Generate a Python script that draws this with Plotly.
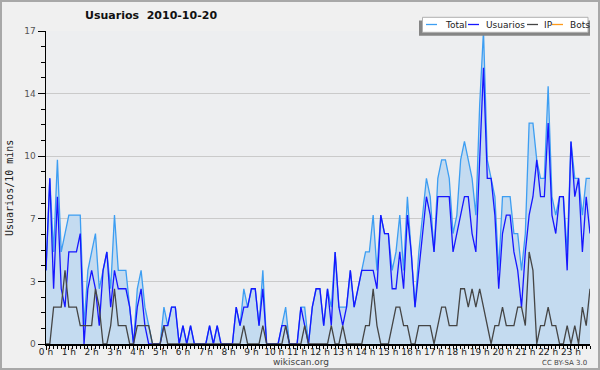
import plotly.graph_objects as go

# ---------------- data (10-minute slots, 2010-10-20) ----------------
slots = list(range(144))

hour_ticks = [0, 6, 12, 18, 24, 30, 36, 42, 48, 54, 60, 66,
              72, 78, 84, 90, 96, 102, 108, 114, 120, 126, 132, 138]
hour_labels = ["0 h", "1 h", "2 h", "3 h", "4 h", "5 h", "6 h", "7 h",
               "8 h", "9 h", "10 h", "11 h", "12 h", "13 h", "14 h", "15 h",
               "16 h", "17 h", "18 h", "19 h", "20 h", "21 h", "22 h", "23 h"]

y_tick_vals = [0, 3.4, 6.8, 10.2, 13.6, 17]
y_tick_text = ["0", "3", "7", "10", "14", "17"]

total = [4, 9, 5, 10, 5, 6, 7, 7, 7, 7,
         1, 4, 5, 6, 3, 4, 5, 3, 7, 4,
         4, 4, 2, 0, 3, 4, 2, 1, 0, 0,
         0, 2, 1, 2, 2, 0, 1, 0, 1, 0,
         0, 0, 0, 1, 0, 1, 0, 0, 0, 0,
         2, 1, 3, 2, 3, 3, 1, 4, 0, 0,
         0, 0, 1, 2, 0, 0, 0, 2, 2, 0,
         2, 3, 3, 1, 3, 2, 5, 2, 2, 2,
         4, 2, 3, 4, 5, 5, 7, 4, 7, 6,
         6, 4, 5, 7, 4, 8, 5, 2, 5, 7,
         9, 8, 5, 9, 10, 10, 9, 6, 7, 10,
         11, 10, 9, 7, 13, 17, 10, 9, 8, 4,
         8, 8, 8, 6, 6, 4, 6, 12, 12, 10,
         9, 9, 14, 8, 7, 8, 8, 5, 11, 9,
         9, 7, 9, 9]

usuarios = [4, 9, 3, 8, 3, 2, 5, 5, 5, 6,
            0, 3, 4, 3, 1, 4, 5, 2, 4, 3,
            3, 3, 2, 0, 2, 3, 1, 0, 0, 0,
            0, 1, 1, 2, 2, 0, 1, 0, 1, 0,
            0, 0, 0, 1, 0, 1, 0, 0, 0, 0,
            2, 1, 2, 2, 3, 3, 1, 3, 0, 0,
            0, 0, 1, 1, 0, 0, 0, 2, 1, 0,
            2, 3, 3, 1, 3, 1, 5, 2, 1, 2,
            4, 2, 3, 4, 4, 4, 4, 3, 7, 6,
            6, 3, 3, 5, 3, 7, 5, 2, 4, 6,
            8, 7, 5, 8, 8, 8, 8, 5, 6, 7,
            8, 8, 6, 5, 10, 15, 9, 9, 7, 3,
            6, 7, 7, 5, 4, 2, 5, 7, 8, 10,
            8, 8, 12, 7, 6, 8, 8, 4, 11, 8,
            9, 5, 8, 6]

ip = [0, 0, 2, 2, 2, 4, 2, 2, 2, 1,
      1, 1, 1, 3, 2, 0, 0, 1, 3, 1,
      1, 1, 0, 0, 1, 1, 1, 1, 0, 0,
      0, 1, 0, 0, 0, 0, 0, 0, 0, 0,
      0, 0, 0, 0, 0, 0, 0, 0, 0, 0,
      0, 0, 1, 0, 0, 0, 0, 1, 0, 0,
      0, 0, 0, 1, 0, 0, 0, 0, 1, 0,
      0, 0, 0, 0, 0, 1, 0, 0, 1, 0,
      0, 0, 0, 0, 1, 1, 3, 1, 0, 0,
      0, 1, 2, 2, 1, 1, 0, 0, 1, 1,
      1, 1, 0, 1, 2, 2, 1, 1, 1, 3,
      3, 2, 3, 2, 3, 2, 1, 0, 1, 1,
      2, 1, 1, 1, 2, 2, 1, 5, 4, 0,
      1, 1, 2, 1, 1, 0, 0, 1, 0, 1,
      0, 2, 1, 3]

bots = [0, 0, 0, 0, 0, 0, 0, 0, 0, 0, 0, 0, 0, 0, 0, 0, 0, 0, 0, 0,
        0, 0, 0, 0, 0, 0, 0, 0, 0, 0, 0, 0, 0, 0, 0, 0, 0, 0, 0, 0,
        0, 0, 0, 0, 0, 0, 0, 0, 0, 0, 0, 0, 0, 0, 0, 0, 0, 0, 0, 0,
        0, 0, 0, 0, 0, 0, 0, 0, 0, 0, 0, 0, 0, 0, 0, 0, 0, 0, 0, 0,
        0, 0, 0, 0, 0, 0, 0, 0, 0, 0, 0, 0, 0, 0, 0, 0, 0, 0, 0, 0,
        0, 0, 0, 0, 0, 0, 0, 0, 0, 0, 0, 0, 0, 0, 0, 0, 0, 0, 0, 0,
        0, 0, 0, 0, 0, 0, 0, 0, 0, 0, 0, 0, 0, 0, 0, 0, 0, 0, 0, 0,
        0, 0, 0, 0]

series_names = ["Total", "Usuarios", "IP", "Bots"]

# ---------------- styling ----------------
C_TOTAL = "#3d9ef2"
C_FILL = "#c4dbf0"
C_USER = "#1616ff"
C_IP = "#454545"
C_BOTS = "#ff9a1a"
FONT = "DejaVu Sans"

W, H = 600, 370
ML, MR, MT, MB = 46, 10, 31, 26
PW, PH = W - ML - MR, H - MT - MB


def px(x):
    return (x - ML) / PW


def py(y):
    return (H - MB - y) / PH


fig = go.Figure()
fig.add_trace(go.Scatter(x=slots, y=bots, mode="lines", name=series_names[3],
                         line=dict(color=C_BOTS, width=1.3)))
fig.add_trace(go.Scatter(x=slots, y=total, mode="lines", name=series_names[0],
                         line=dict(color=C_TOTAL, width=1.3),
                         fill="tozeroy", fillcolor=C_FILL))
fig.add_trace(go.Scatter(x=slots, y=usuarios, mode="lines", name=series_names[1],
                         line=dict(color=C_USER, width=1.3)))
fig.add_trace(go.Scatter(x=slots, y=ip, mode="lines", name=series_names[2],
                         line=dict(color=C_IP, width=1.3)))

shapes = []
annotations = []

# outer frame
shapes.append(dict(type="rect", xref="paper", yref="paper",
                   x0=px(1), x1=px(599), y0=py(1), y1=py(369),
                   line=dict(color="#a8a8a8", width=2), layer="above"))

# legend (custom compact box)
shapes.append(dict(type="rect", xref="paper", yref="paper",
                   x0=px(419), x1=px(590), y0=py(20.5), y1=py(35.7),
                   fillcolor="#858585", line=dict(width=0), layer="above"))
shapes.append(dict(type="rect", xref="paper", yref="paper",
                   x0=px(422.5), x1=px(588), y0=py(17.3), y1=py(32.3),
                   fillcolor="#ffffff", line=dict(color="#b0b0b0", width=1),
                   layer="above"))
legend_items = [(426, 442.5, C_TOTAL), (468, 484, C_USER),
                (527, 542, C_IP), (552, 568, C_BOTS)]
for name, (lx, tx, col) in zip(series_names, legend_items):
    shapes.append(dict(type="line", xref="paper", yref="paper",
                       x0=px(lx), x1=px(lx + 11), y0=py(24.5), y1=py(24.5),
                       line=dict(color=col, width=1.3), layer="above"))
    annotations.append(dict(x=px(tx), y=py(24.8), xref="paper", yref="paper",
                            text=name, showarrow=False, xanchor="left",
                            yanchor="middle",
                            font=dict(family=FONT, size=9, color="#222222")))

# title
annotations.append(dict(x=px(151), y=py(16), xref="paper", yref="paper",
                        text="<b>Usuarios\u00a0 2010-10-20</b>", showarrow=False,
                        xanchor="center", yanchor="middle",
                        font=dict(family=FONT, size=11, color="#111111")))
# y-axis title
annotations.append(dict(x=px(9), y=py(188), xref="paper", yref="paper",
                        text="Usuarios/10 mins", showarrow=False, textangle=-90,
                        xanchor="center", yanchor="middle",
                        font=dict(family="DejaVu Sans Mono", size=10,
                                  color="#222222")))
# footer
annotations.append(dict(x=px(300.5), y=py(362), xref="paper", yref="paper",
                        text="wikiscan.org", showarrow=False,
                        xanchor="center", yanchor="middle",
                        font=dict(family=FONT, size=9, color="#444444")))
annotations.append(dict(x=px(589), y=py(363), xref="paper", yref="paper",
                        text="CC BY-SA 3.0", showarrow=False,
                        xanchor="right", yanchor="middle",
                        font=dict(family=FONT, size=7, color="#444444")))

fig.update_layout(
    width=W, height=H,
    margin=dict(l=ML, r=MR, t=MT, b=MB, pad=0),
    paper_bgcolor="#f0f0f0",
    plot_bgcolor="#edeef0",
    showlegend=False,
    hovermode=False,
    shapes=shapes,
    annotations=annotations,
    xaxis=dict(
        range=[0, 143], tickmode="array", tickvals=hour_ticks,
        ticktext=hour_labels, ticks="outside", ticklen=4, tickwidth=1,
        tickcolor="#000000", showline=True, linecolor="#000000", linewidth=1.5,
        showgrid=False, zeroline=False, automargin=False,
        ticklabelstandoff=-5,
        tickfont=dict(family=FONT, size=9, color="#222222"),
        minor=dict(tick0=0, dtick=1, ticks="outside", ticklen=3,
                   tickwidth=1, tickcolor="#000000", showgrid=False),
    ),
    yaxis=dict(
        range=[0, 17], tickmode="array", tickvals=y_tick_vals,
        ticktext=y_tick_text, ticks="outside", ticklen=7, tickwidth=1,
        tickcolor="#000000", showline=True, linecolor="#000000", linewidth=1.5,
        showgrid=True, gridcolor="#cacaca", gridwidth=1, zeroline=False,
        automargin=False,
        tickfont=dict(family=FONT, size=9, color="#555555"),
        minor=dict(tick0=0, dtick=0.85, ticks="outside", ticklen=4,
                   tickwidth=1, tickcolor="#000000", showgrid=False),
    ),
)

fig.write_html("out.html",
               config={"displayModeBar": False, "staticPlot": True},
               post_script="document.body.style.margin='0px';"
                           "document.body.style.overflow='hidden';")
